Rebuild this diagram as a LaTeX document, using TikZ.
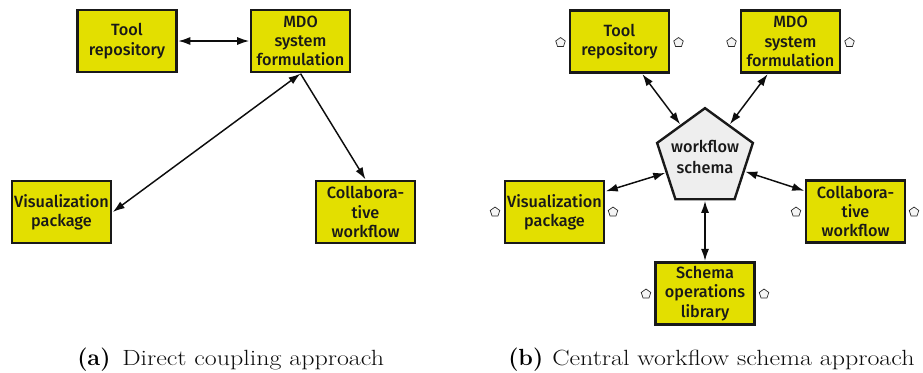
\documentclass[tikz,border=0pt]{standalone}
\usepackage{fontspec}
\usepackage{graphicx}
\usetikzlibrary{arrows.meta,shapes.geometric}
\newfontfamily\boxfont{Fira Sans}[UprightFont=* Medium,BoldFont=* Medium]
\definecolor{boxyellow}{RGB}{227,223,0}
\definecolor{schemagray}{RGB}{238,238,238}
\tikzset{
  x=0.75pt,y=-0.75pt,
  toolbox/.style={draw=black!90,line width=1.8pt,fill=boxyellow,minimum width=74.5pt,minimum height=46.5pt,inner sep=0pt,outer sep=1.2pt,align=center,font=\boxfont\fontsize{12.2}{14.5}\selectfont,text=black!90},
  schemanode/.style={regular polygon,regular polygon sides=5,draw=black!90,line width=1.8pt,fill=schemagray,minimum size=75.5pt,inner sep=0pt,outer sep=1.2pt},
  schematext/.style={align=center,inner sep=0pt,font=\boxfont\fontsize{12.2}{15.5}\selectfont,text=black!90},
  port/.style={regular polygon,regular polygon sides=5,draw=black!85,line width=0.5pt,fill=schemagray!60,minimum size=7.5pt,inner sep=0pt},
  link/.style={draw=black!95,line width=1.1pt},
  both/.style={link,{Latex[length=9pt,width=6pt]}-{Latex[length=9pt,width=6pt]}},
  single/.style={link,-{Latex[length=9pt,width=6pt]}},
  captxt/.style={anchor=base west,inner sep=0pt,font=\fontsize{16.5}{18}\selectfont,text=black!95},
  capbold/.style={anchor=base west,inner sep=0pt,font=\fontsize{17.5}{18}\selectfont\bfseries,text=black},
}
\begin{document}
\begin{tikzpicture}
\useasboundingbox (0,0) rectangle (923,372);
% (a)
\node[toolbox] (at) at (127,41) {Tool\\repository};
\node[toolbox] (am) at (300.5,41) {MDO\\system\\formulation};
\node[toolbox] (av) at (61.5,212) {Visualization\\package};
\node[toolbox] (ac) at (365.5,212) {Collabora-\\tive\\workflow};
\draw[both] (at.east) -- (am.west);
\draw[both] (am.south) -- (av.east);
\draw[single] (am.south) -- (ac.north);
% (b)
\node[schemanode] (s) at (705,158.5) {};
\node[schematext] (st) at (705,157) {workflow\\schema};
\node[toolbox] (bt) at (619.5,41.5) {Tool\\repository};
\node[toolbox] (bm) at (790.5,41.5) {MDO\\system\\formulation};
\node[toolbox] (bv) at (554.5,212) {Visualization\\package};
\node[toolbox] (bc) at (855.5,211.5) {Collabora-\\tive\\workflow};
\node[toolbox] (bl) at (705,293.5) {Schema\\operations\\library};
\draw[both] (bt.305) -- (s.126);
\draw[both] (bm.235) -- (s.54);
\draw[both] (bv.22) -- (s.200);
\draw[both] (bc.158) -- (s.-18);
\draw[both] (bl.north) -- (s.south);
\node[port] (p1) at (560.5,42.5) {};
\node[port] (p2) at (678.5,42.5) {};
\node[port] (p3) at (731.5,42.5) {};
\node[port] (p4) at (849.5,42.5) {};
\node[port] (p5) at (495,212) {};
\node[port] (p6) at (613,212) {};
\node[port] (p7) at (796,212) {};
\node[port] (p8) at (914,212) {};
\node[port] (p9) at (646,294) {};
\node[port] (p10) at (764,294) {};
% captions
\node[capbold] (ca) at (77,365) {(a)};
\node[captxt] (cat) at (122,365) {\scalebox{1.18}[1]{Direct coupling approach}};
\node[capbold] (cb) at (508,365) {(b)};
\node[captxt] (cbt) at (552,365) {\scalebox{1.18}[1]{Central workflow schema approach}};
\end{tikzpicture}
\end{document}
